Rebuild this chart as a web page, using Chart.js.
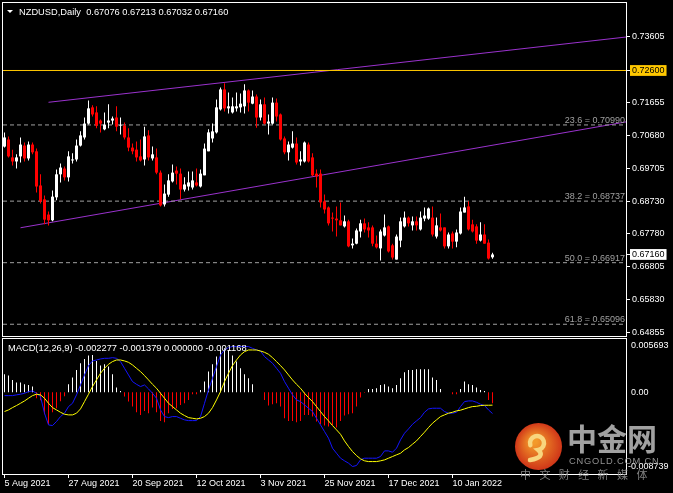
<!DOCTYPE html>
<html>
<head>
<meta charset="utf-8">
<script src="https://cdn.jsdelivr.net/npm/chart.js@4.4.1/dist/chart.umd.min.js"></script>
<style>
html, body { margin: 0; padding: 0; background: #000; overflow: hidden; }
#wrap { position: relative; width: 673px; height: 493px; }
#priceChart { position: absolute; left: 0; top: 0; }
#macdChart { position: absolute; left: 0; top: 337px; }
</style>
</head>
<body>
<div id="wrap">
  <canvas id="priceChart" width="673" height="337"></canvas>
  <canvas id="macdChart" width="673" height="156"></canvas>
</div>
<script>
var symbolTitle = 'NZDUSD,Daily';
var lastQuote = ['0.67076', '0.67213', '0.67032', '0.67160'];

// bar index of each date label (daily bars, 5 Aug 2021 = bar 0)
var tickIdx = [0, 16, 32, 48, 64, 80, 96, 112];
var tickDates = ['5 Aug 2021', '27 Aug 2021', '20 Sep 2021', '12 Oct 2021',
                 '3 Nov 2021', '25 Nov 2021', '17 Dec 2021', '10 Jan 2022'];

var openP = [
  0.7035, 0.7056, 0.7003, 0.6991, 0.7006, 0.7038, 0.7000, 0.7041, 0.7021, 0.6920,
  0.6879, 0.6834, 0.6817, 0.6885, 0.6953, 0.6970, 0.6944, 0.6994, 0.6997, 0.7038,
  0.7062, 0.7103, 0.7151, 0.7136, 0.7112, 0.7086, 0.7106, 0.7112, 0.7121, 0.7097,
  0.7097, 0.7062, 0.7032, 0.7026, 0.7006, 0.6997, 0.7068, 0.7000, 0.7003, 0.6958,
  0.6864, 0.6893, 0.6932, 0.6964, 0.6955, 0.6908, 0.6917, 0.6914, 0.6929, 0.6917,
  0.6950, 0.7021, 0.7059, 0.7077, 0.7145, 0.7204, 0.7148, 0.7136, 0.7148, 0.7151,
  0.7154, 0.7201, 0.7162, 0.7183, 0.7121, 0.7160, 0.7103, 0.7103, 0.7165, 0.7130,
  0.7059, 0.7018, 0.7032, 0.7044, 0.6991, 0.6991, 0.7041, 0.7003, 0.6955, 0.6955,
  0.6873, 0.6855, 0.6825, 0.6822, 0.6817, 0.6799, 0.6814, 0.6743, 0.6748, 0.6784,
  0.6808, 0.6796, 0.6796, 0.6748, 0.6734, 0.6772, 0.6799, 0.6743, 0.6701, 0.6757,
  0.6799, 0.6825, 0.6802, 0.6814, 0.6790, 0.6822, 0.6822, 0.6825, 0.6769, 0.6796,
  0.6796, 0.6740, 0.6778, 0.6754, 0.6778, 0.6840, 0.6858, 0.6805, 0.6799, 0.6757,
  0.6775, 0.6751, 0.67076
];
var highP = [
  0.7077, 0.7065, 0.7026, 0.7012, 0.7062, 0.7047, 0.7050, 0.7047, 0.7029, 0.6953,
  0.6890, 0.6843, 0.6905, 0.6967, 0.6985, 0.6976, 0.7021, 0.7015, 0.7056, 0.7080,
  0.7121, 0.7171, 0.7157, 0.7154, 0.7115, 0.7136, 0.7160, 0.7124, 0.7154, 0.7121,
  0.7106, 0.7089, 0.7044, 0.7050, 0.7056, 0.7094, 0.7083, 0.7035, 0.7029, 0.6964,
  0.6923, 0.6953, 0.6982, 0.6976, 0.6970, 0.6944, 0.6961, 0.6961, 0.6970, 0.6967,
  0.7044, 0.7086, 0.7103, 0.7174, 0.7210, 0.7222, 0.7195, 0.7180, 0.7195, 0.7192,
  0.7219, 0.7204, 0.7201, 0.7189, 0.7174, 0.7180, 0.7130, 0.7180, 0.7177, 0.7133,
  0.7065, 0.7050, 0.7080, 0.7062, 0.7021, 0.7050, 0.7047, 0.7015, 0.6967, 0.6967,
  0.6893, 0.6858, 0.6840, 0.6858, 0.6870, 0.6831, 0.6819, 0.6763, 0.6793, 0.6819,
  0.6822, 0.6811, 0.6802, 0.6772, 0.6790, 0.6834, 0.6802, 0.6748, 0.6775, 0.6825,
  0.6843, 0.6828, 0.6828, 0.6828, 0.6843, 0.6855, 0.6855, 0.6858, 0.6825, 0.6837,
  0.6796, 0.6781, 0.6784, 0.6790, 0.6855, 0.6887, 0.6873, 0.6819, 0.6805, 0.6811,
  0.6805, 0.6760, 0.67213
];
var lowP = [
  0.7032, 0.7003, 0.6979, 0.6970, 0.6988, 0.6991, 0.6994, 0.7012, 0.6899, 0.6867,
  0.6805, 0.6802, 0.6814, 0.6876, 0.6929, 0.6935, 0.6932, 0.6985, 0.6991, 0.7035,
  0.7056, 0.7100, 0.7124, 0.7089, 0.7077, 0.7083, 0.7089, 0.7100, 0.7080, 0.7071,
  0.7056, 0.7021, 0.7012, 0.6991, 0.6991, 0.6979, 0.6994, 0.6994, 0.6953, 0.6858,
  0.6858, 0.6887, 0.6929, 0.6923, 0.6879, 0.6902, 0.6905, 0.6908, 0.6917, 0.6914,
  0.6950, 0.7021, 0.7047, 0.7074, 0.7142, 0.7139, 0.7133, 0.7133, 0.7139, 0.7136,
  0.7133, 0.7139, 0.7160, 0.7091, 0.7112, 0.7100, 0.7071, 0.7100, 0.7109, 0.7053,
  0.7012, 0.6994, 0.7029, 0.6982, 0.6979, 0.6988, 0.6988, 0.6947, 0.6914, 0.6855,
  0.6837, 0.6802, 0.6784, 0.6769, 0.6802, 0.6796, 0.6737, 0.6734, 0.6746, 0.6766,
  0.6781, 0.6766, 0.6740, 0.6734, 0.6698, 0.6769, 0.6722, 0.6701, 0.6701, 0.6737,
  0.6796, 0.6799, 0.6787, 0.6787, 0.6787, 0.6814, 0.6819, 0.6769, 0.6763, 0.6784,
  0.6734, 0.6734, 0.6734, 0.6737, 0.6775, 0.6840, 0.6787, 0.6781, 0.6748, 0.6754,
  0.6748, 0.6701, 0.67032
];
var closeP = [
  0.7062, 0.7006, 0.6991, 0.7003, 0.7041, 0.7000, 0.7041, 0.7018, 0.6917, 0.6873,
  0.6819, 0.6817, 0.6887, 0.6953, 0.6973, 0.6944, 0.7006, 0.6997, 0.7038, 0.7068,
  0.7103, 0.7148, 0.7130, 0.7097, 0.7103, 0.7100, 0.7112, 0.7118, 0.7094, 0.7100,
  0.7062, 0.7032, 0.7021, 0.7003, 0.6994, 0.7065, 0.7003, 0.7012, 0.6958, 0.6861,
  0.6896, 0.6935, 0.6958, 0.6955, 0.6908, 0.6923, 0.6929, 0.6935, 0.6920, 0.6955,
  0.7029, 0.7077, 0.7080, 0.7151, 0.7204, 0.7148, 0.7154, 0.7154, 0.7154, 0.7162,
  0.7201, 0.7165, 0.7183, 0.7121, 0.7160, 0.7103, 0.7109, 0.7165, 0.7124, 0.7056,
  0.7018, 0.7041, 0.7044, 0.6988, 0.6997, 0.7047, 0.6991, 0.6950, 0.6947, 0.6870,
  0.6849, 0.6808, 0.6822, 0.6817, 0.6802, 0.6814, 0.6740, 0.6748, 0.6787, 0.6808,
  0.6790, 0.6787, 0.6748, 0.6737, 0.6784, 0.6796, 0.6725, 0.6707, 0.6769, 0.6814,
  0.6825, 0.6808, 0.6814, 0.6802, 0.6825, 0.6831, 0.6852, 0.6775, 0.6802, 0.6787,
  0.6740, 0.6775, 0.6754, 0.6781, 0.6843, 0.6855, 0.6790, 0.6784, 0.6757, 0.6775,
  0.6748, 0.6704, 0.67160
];

// MACD(12,26,9): blue main line, yellow signal line, white/red histogram
var macdMain = [
  -0.00036, -0.00036, -0.00036, -0.00028, -0.00021, -0.00011, 0.00007, 0.00014, -0.00011, -0.00046,
  -0.00224, -0.00349, -0.00356, -0.00313, -0.00260, -0.00224, -0.00153, -0.00118, -0.00028, 0.00078,
  0.00185, 0.00285, 0.00335, 0.00345, 0.00356, 0.00363, 0.00363, 0.00370, 0.00363, 0.00328,
  0.00256, 0.00185, 0.00114, 0.00085, 0.00061, 0.00078, 0.00036, -0.00011, -0.00064, -0.00189,
  -0.00260, -0.00271, -0.00260, -0.00260, -0.00278, -0.00295, -0.00303, -0.00303, -0.00303, -0.00260,
  -0.00118, 0.00025, 0.00150, 0.00274, 0.00399, 0.00452, 0.00477, 0.00488, 0.00488, 0.00488,
  0.00488, 0.00488, 0.00470, 0.00452, 0.00441, 0.00381, 0.00345, 0.00310, 0.00256, 0.00203,
  0.00114, 0.00043, -0.00028, -0.00082, -0.00100, -0.00135, -0.00171, -0.00206, -0.00278, -0.00349,
  -0.00420, -0.00491, -0.00598, -0.00652, -0.00705, -0.00733, -0.00758, -0.00794, -0.00783, -0.00723,
  -0.00705, -0.00705, -0.00705, -0.00705, -0.00687, -0.00627, -0.00627, -0.00641, -0.00598, -0.00509,
  -0.00438, -0.00392, -0.00342, -0.00306, -0.00271, -0.00214, -0.00178, -0.00171, -0.00171, -0.00171,
  -0.00206, -0.00224, -0.00224, -0.00214, -0.00153, -0.00100, -0.00093, -0.00093, -0.00107, -0.00128,
  -0.00142, -0.00189, -0.002277
];
var macdSignal = [
  -0.00206, -0.00189, -0.00164, -0.00142, -0.00118, -0.00093, -0.00064, -0.00036, -0.00021, -0.00028,
  -0.00064, -0.00118, -0.00164, -0.00189, -0.00214, -0.00235, -0.00242, -0.00242, -0.00224, -0.00178,
  -0.00100, -0.00021, 0.00061, 0.00132, 0.00203, 0.00256, 0.00299, 0.00328, 0.00345, 0.00345,
  0.00335, 0.00320, 0.00292, 0.00256, 0.00221, 0.00178, 0.00132, 0.00085, 0.00043, -0.00011,
  -0.00064, -0.00118, -0.00153, -0.00189, -0.00224, -0.00249, -0.00271, -0.00278, -0.00285, -0.00278,
  -0.00260, -0.00224, -0.00164, -0.00082, 0.00007, 0.00114, 0.00203, 0.00285, 0.00345, 0.00399,
  0.00434, 0.00452, 0.00452, 0.00452, 0.00441, 0.00427, 0.00406, 0.00370, 0.00328, 0.00285,
  0.00239, 0.00185, 0.00132, 0.00085, 0.00043, -0.00011, -0.00057, -0.00100, -0.00153, -0.00206,
  -0.00260, -0.00306, -0.00356, -0.00402, -0.00449, -0.00520, -0.00580, -0.00634, -0.00677, -0.00712,
  -0.00733, -0.00741, -0.00741, -0.00741, -0.00733, -0.00723, -0.00705, -0.00687, -0.00669, -0.00652,
  -0.00616, -0.00591, -0.00555, -0.00520, -0.00473, -0.00427, -0.00377, -0.00331, -0.00295, -0.00260,
  -0.00242, -0.00224, -0.00214, -0.00199, -0.00192, -0.00178, -0.00164, -0.00153, -0.00150, -0.00142,
  -0.00139, -0.00139, -0.001379
];
var macdHist = [
  0.00192, 0.00179, 0.00131, 0.00104, 0.00104, 0.00086, 0.00078, 0.00061, -0.00064, -0.00086,
  -0.00235, -0.00342, -0.00214, -0.00171, -0.00096, -0.00043, 0.00086, 0.00157, 0.00238, 0.00310,
  0.00356, 0.00392, 0.00399, 0.00335, 0.00285, 0.00299, 0.00275, 0.00192, 0.00050, 0.00014,
  -0.00046, -0.00099, -0.00153, -0.00214, -0.00243, -0.00200, -0.00224, -0.00164, -0.00214, -0.00307,
  -0.00321, -0.00224, -0.00179, -0.00171, -0.00136, -0.00118, -0.00082, -0.00021, -0.00021, 0.00025,
  0.00114, 0.00221, 0.00299, 0.00382, 0.00452, 0.00470, 0.00452, 0.00392, 0.00328, 0.00257,
  0.00192, 0.00150, 0.00086, 0.00000, 0.00000, -0.00082, -0.00142, -0.00128, -0.00118, -0.00153,
  -0.00278, -0.00307, -0.00307, -0.00321, -0.00307, -0.00243, -0.00243, -0.00260, -0.00313, -0.00342,
  -0.00356, -0.00367, -0.00350, -0.00377, -0.00307, -0.00249, -0.00235, -0.00224, -0.00153, -0.00057,
  -0.00005, 0.00035, 0.00035, 0.00043, 0.00078, 0.00086, 0.00061, 0.00043, 0.00078, 0.00150,
  0.00214, 0.00238, 0.00238, 0.00246, 0.00246, 0.00246, 0.00246, 0.00157, 0.00131, 0.00035,
  0.00000, 0.00000, -0.00021, -0.00021, 0.00035, 0.00114, 0.00086, 0.00078, 0.00050, 0.00025,
  0.00014, -0.00082, -0.001168
];
var macdHeader = ['-0.002277', '-0.001379', '0.000000', '-0.001168'];

var priceTicks = [0.64855, 0.65830, 0.66805, 0.67160, 0.67780, 0.68730, 0.69705,
                  0.70680, 0.71655, 0.72600, 0.73605];
var hLevel = 0.72600;
var bidPrice = 0.67160;
var fibNames = ['23.6', '38.2', '50.0', '61.8'];
var fibPrices = [0.70990, 0.68737, 0.66917, 0.65096];
// channel lines: bar index -> price
var upperChannel = [{x: 11, y: 0.7166}, {x: 155.375, y: 0.7359}];
var lowerChannel = [{x: 4, y: 0.6795}, {x: 155.375, y: 0.7108}];
var macdLabels = [0.005693, 0.00, -0.008739];

var FONT = '"Liberation Sans", Arial, sans-serif';
var X_MIN = -0.375, X_MAX = 155.375;

var candleCol = closeP.map(function(c, i) { return c >= openP[i] ? '#ffffff' : '#ff0000'; });
var wickData = highP.map(function(h, i) { return {x: i, y: [lowP[i], h]}; });
var bodyData = openP.map(function(o, i) { return {x: i, y: [o, closeP[i]]}; });

function flat(v) { return [{x: X_MIN, y: v}, {x: X_MAX, y: v}]; }
function lineSet(data, color, dash) {
    return {type: 'line', data: data, borderColor: color, borderWidth: 1, borderDash: dash || [],
            pointRadius: 0, tension: 0, order: 3};
}

var priceSets = fibPrices.map(function(p) { return lineSet(flat(p), '#a0a0a0', [4, 3]); });
priceSets.push(lineSet(flat(hLevel), '#ffc800'));
priceSets.push(lineSet(upperChannel, '#9a32cd'));
priceSets.push(lineSet(lowerChannel, '#9a32cd'));
priceSets.push({type: 'bar', data: wickData, backgroundColor: candleCol, barThickness: 1,
                grouped: false, inflateAmount: 0, borderWidth: 0, order: 2});
priceSets.push({type: 'bar', data: bodyData, backgroundColor: candleCol, barThickness: 3,
                minBarLength: 1, grouped: false, inflateAmount: 0, borderWidth: 0, order: 1});

function boxColor(v) {
    if (Math.abs(v - hLevel) < 1e-7) return '#ffc800';
    if (Math.abs(v - bidPrice) < 1e-7) return '#ffffff';
    return null;
}

var priceDecor = {
    id: 'priceDecor',
    afterDraw: function(chart) {
        var ctx = chart.ctx, a = chart.chartArea, ys = chart.scales.y;
        ctx.save();
        ctx.font = '9px ' + FONT;
        ctx.fillStyle = '#a0a0a0';
        ctx.textAlign = 'right';
        ctx.textBaseline = 'alphabetic';
        fibPrices.forEach(function(p, k) {
            ctx.fillText(fibNames[k] + ' = ' + p.toFixed(5), a.right - 1, ys.getPixelForValue(p) - 2);
        });
        ctx.strokeStyle = '#ffffff';
        ctx.lineWidth = 1;
        ctx.strokeRect(a.left - 0.5, a.top - 0.5, a.right - a.left + 1, a.bottom - a.top + 1);
        ctx.fillStyle = '#ffffff';
        ctx.beginPath();
        ctx.moveTo(7, 10); ctx.lineTo(13, 10); ctx.lineTo(10, 13);
        ctx.closePath(); ctx.fill();
        ctx.textAlign = 'left';
        ctx.font = '9.3px ' + FONT;
        ctx.fillText(symbolTitle + '  ' + lastQuote.join(' '), 19, 15);
        ctx.restore();
    }
};

new Chart(document.getElementById('priceChart').getContext('2d'), {
    type: 'bar',
    data: {datasets: priceSets},
    options: {
        responsive: false,
        animation: false,
        events: [],
        layout: {padding: {left: 3, top: 3, right: 0, bottom: 1}},
        plugins: {legend: {display: false}, tooltip: {enabled: false}},
        scales: {
            x: {type: 'linear', min: X_MIN, max: X_MAX, offset: false, display: false,
                grid: {offset: false}},
            y: {
                position: 'right', min: 0.64749, max: 0.74596,
                afterBuildTicks: function(s) { s.ticks = priceTicks.map(function(v) { return {value: v}; }); },
                afterFit: function(s) { s.width = 47; s.paddingTop = 0; s.paddingBottom = 0; },
                grid: {drawOnChartArea: false, drawTicks: true, tickLength: 4, color: '#ffffff'},
                border: {display: false},
                ticks: {
                    autoSkip: false, padding: 2, crossAlign: 'near',
                    font: {family: FONT, size: 9},
                    color: function(c) { return boxColor(c.tick.value) ? '#000000' : '#ffffff'; },
                    showLabelBackdrop: function(c) { return !!boxColor(c.tick.value); },
                    backdropColor: function(c) { return boxColor(c.tick.value) || 'rgba(0,0,0,0)'; },
                    backdropPadding: {left: 2, right: 2, top: 0, bottom: 0},
                    callback: function(v) { return v.toFixed(5); }
                }
            }
        }
    },
    plugins: [priceDecor]
});

// ---- MACD window ----
var histData = macdHist.map(function(v, i) { return {x: i, y: v}; });
var histCol = macdHist.map(function(v) { return v >= 0 ? '#ffffff' : '#ff0000'; });

var macdDecor = {
    id: 'macdDecor',
    afterDraw: function(chart) {
        var ctx = chart.ctx, a = chart.chartArea, ys = chart.scales.y;
        ctx.save();
        ctx.strokeStyle = '#ffffff';
        ctx.lineWidth = 1;
        ctx.strokeRect(a.left - 0.5, a.top - 0.5, a.right - a.left + 1, a.bottom - a.top + 1);
        ctx.fillStyle = '#ffffff';
        ctx.font = '9.3px ' + FONT;
        ctx.textAlign = 'left';
        ctx.textBaseline = 'alphabetic';
        ctx.fillText('MACD(12,26,9) ' + macdHeader.join(' '), 8, 14);
        // right scale labels
        ctx.font = '9px ' + FONT;
        ctx.textBaseline = 'middle';
        ctx.fillText(macdLabels[0].toFixed(6), 631, ys.getPixelForValue(macdLabels[0]) + 6.7);
        ctx.fillText(macdLabels[1].toFixed(2), 631, ys.getPixelForValue(macdLabels[1]));
        ctx.fillText(macdLabels[2].toFixed(6), 628, ys.getPixelForValue(macdLabels[2]) - 7);

        // watermark
        var g = ctx.createRadialGradient(534, 104, 3, 538.5, 109.5, 24);
        g.addColorStop(0, '#f39a2a');
        g.addColorStop(1, '#cf3418');
        ctx.fillStyle = g;
        ctx.beginPath();
        ctx.arc(538.5, 109.5, 23.5, 0, Math.PI * 2);
        ctx.fill();
        ctx.strokeStyle = '#f8d57e';
        ctx.lineWidth = 4.5;
        ctx.lineCap = 'round';
        ctx.beginPath();
        ctx.arc(537, 106, 7, Math.PI * 0.9, Math.PI * 2.45);
        ctx.quadraticCurveTo(546, 120, 530, 123);
        ctx.stroke();
        ctx.fillStyle = 'rgba(178,178,178,0.9)';
        ctx.font = 'bold 30px "Noto Sans CJK SC"';
        ctx.textAlign = 'left';
        ctx.textBaseline = 'middle';
        ctx.fillText('中金网', 567, 102);
        ctx.fillStyle = 'rgba(160,160,160,0.9)';
        ctx.font = '9.3px ' + FONT;
        ctx.textBaseline = 'alphabetic';
        if ('letterSpacing' in ctx) ctx.letterSpacing = '0.8px';
        ctx.fillText('CNGOLD.COM.CN', 569, 127);
        if ('letterSpacing' in ctx) ctx.letterSpacing = '0px';
        ctx.fillStyle = 'rgba(150,150,150,0.85)';
        ctx.font = '11px "Noto Sans CJK SC"';
        ctx.textBaseline = 'middle';
        var slogan = ['中', '文', '财', '经', '新', '媒', '体'];
        slogan.forEach(function(ch, k) { ctx.fillText(ch, 520 + 19.4 * k, 138); });
        ctx.restore();
    }
};

new Chart(document.getElementById('macdChart').getContext('2d'), {
    type: 'bar',
    data: {
        datasets: [
            {type: 'line', data: macdSignal.map(function(v, i) { return {x: i, y: v}; }),
             borderColor: '#ffff00', borderWidth: 1, pointRadius: 0, tension: 0, order: 1},
            {type: 'line', data: macdMain.map(function(v, i) { return {x: i, y: v}; }),
             borderColor: '#1414ff', borderWidth: 1, pointRadius: 0, tension: 0, order: 2},
            {type: 'bar', data: histData, backgroundColor: histCol, barThickness: 1,
             grouped: false, inflateAmount: 0, borderWidth: 0, order: 3}
        ]
    },
    options: {
        responsive: false,
        animation: false,
        events: [],
        layout: {padding: {left: 3, top: 2, right: 47, bottom: 0}},
        plugins: {legend: {display: false}, tooltip: {enabled: false}},
        scales: {
            x: {
                type: 'linear', min: X_MIN, max: X_MAX, offset: false, position: 'bottom',
                afterBuildTicks: function(s) { s.ticks = tickIdx.map(function(v) { return {value: v}; }); },
                afterFit: function(s) { s.height = 19; s.paddingLeft = 0; s.paddingRight = 0; },
                grid: {offset: false, drawOnChartArea: false, drawTicks: true, tickLength: 4, color: '#ffffff'},
                border: {display: false},
                ticks: {
                    autoSkip: false, maxRotation: 0, align: 'start', padding: 0,
                    color: '#ffffff', font: {family: FONT, size: 9},
                    callback: function(v) { return tickDates[tickIdx.indexOf(v)]; }
                }
            },
            y: {display: false, min: -0.008739, max: 0.005693}
        }
    },
    plugins: [macdDecor]
});
</script>
</body>
</html>
